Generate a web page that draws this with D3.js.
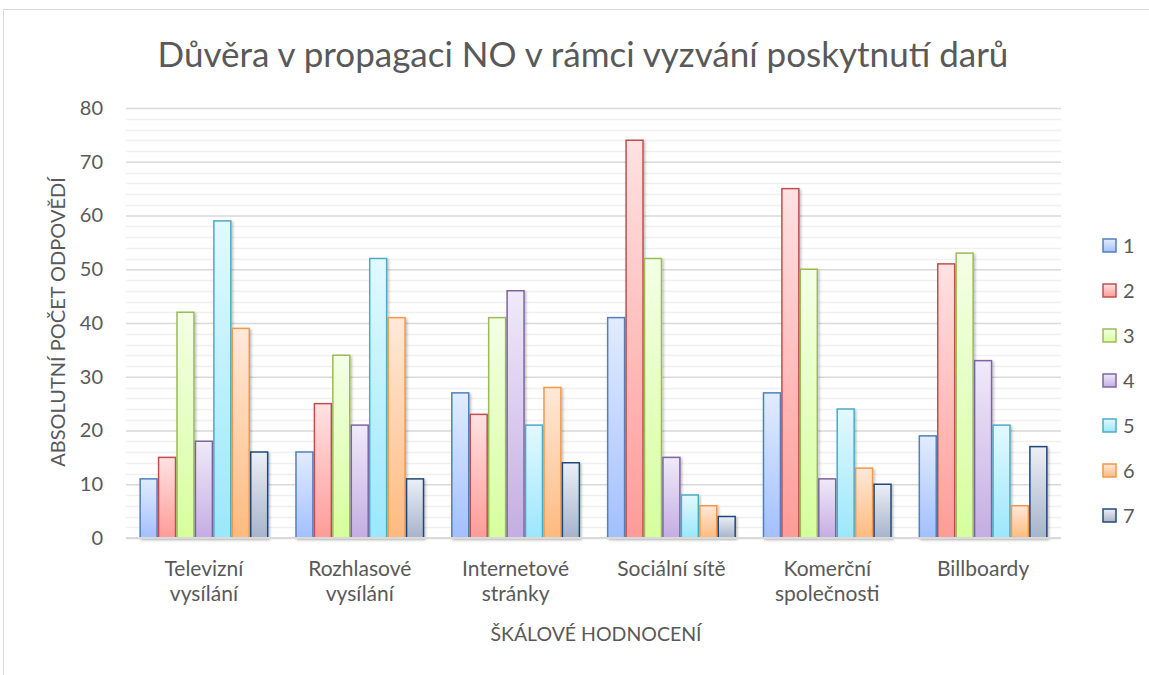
<!DOCTYPE html>
<html>
<head>
<meta charset="utf-8">
<script src="https://cdn.jsdelivr.net/npm/d3@7"></script>
<style>
  body { margin: 0; background: #fff; }
  svg { font-family: Lato, "Open Sans", sans-serif; }
</style>
</head>
<body>
<div id="chart"></div>
<script>
// data
var categories = [["Televizní", "vysílání"], ["Rozhlasové", "vysílání"], ["Internetové", "stránky"],
	["Sociální sítě"], ["Komerční", "společnosti"], ["Billboardy"]];
var seriesNames = ["1", "2", "3", "4", "5", "6", "7"];
var s1 = [11, 16, 27, 41, 27, 19];
var s2 = [15, 25, 23, 74, 65, 51];
var s3 = [42, 34, 41, 52, 50, 53];
var s4 = [18, 21, 46, 15, 11, 33];
var s5 = [59, 52, 21, 8, 24, 21];
var s6 = [39, 41, 28, 6, 13, 6];
var s7 = [16, 11, 14, 4, 10, 17];
var yTicks = [0, 10, 20, 30, 40, 50, 60, 70, 80];

var series = [s1, s2, s3, s4, s5, s6, s7];
var strokes = ["#4f81bd", "#c0504d", "#9bbb59", "#8064a2", "#4bacc6", "#f79646", "#1f497d"];
var topFill = ["#e2ecff", "#ffe2e2", "#f4ffe6", "#f0eafa", "#e2f9ff", "#ffe9da", "#eceff5"];
var botFill = ["#a2bfff", "#ff9b98", "#d6ff9c", "#c4ade2", "#9be7fb", "#ffba7e", "#a6b3cb"];

var width = 1149, height = 675;
var pad = {t: 108, r: 88, b: 137, l: 126};

var svg = d3.select("#chart").append("svg")
	.attr("width", width).attr("height", height);

// outer chart border
svg.append("rect").attr("x", 3.5).attr("y", 9.5).attr("width", 1200).attr("height", 800)
	.attr("fill", "none").attr("stroke", "#d9d9d9");

var defs = svg.append("defs");
series.forEach(function(s, i) {
	var g = defs.append("linearGradient").attr("id", "grad" + i)
		.attr("x1", 0).attr("y1", 0).attr("x2", 0).attr("y2", 1);
	g.append("stop").attr("offset", "0%").attr("stop-color", topFill[i]);
	g.append("stop").attr("offset", "100%").attr("stop-color", botFill[i]);
});
var f = defs.append("filter").attr("id", "shadow").attr("x", "-20%").attr("y", "-5%")
	.attr("width", "150%").attr("height", "115%");
f.append("feDropShadow").attr("dx", 1.5).attr("dy", 1.5).attr("stdDeviation", 1.2)
	.attr("flood-color", "#000").attr("flood-opacity", 0.25);

var chartW = width - pad.l - pad.r;
var chartH = height - pad.t - pad.b;

var x0 = d3.scaleBand().domain(d3.range(categories.length)).range([pad.l, pad.l + chartW])
	.paddingInner(0.172).paddingOuter(0.086);
var x1 = d3.scaleBand().domain(d3.range(series.length)).range([0, x0.bandwidth()]);
var y = d3.scaleLinear().domain([0, 80]).range([pad.t + chartH, pad.t]);

// minor gridlines
svg.append("g").selectAll("line").data(d3.range(2, 80, 2).filter(function(v) { return v % 10; }))
	.enter().append("line")
	.attr("x1", pad.l).attr("x2", pad.l + chartW)
	.attr("y1", function(d) { return Math.round(y(d)) + 0.5; })
	.attr("y2", function(d) { return Math.round(y(d)) + 0.5; })
	.attr("stroke", "#f0f0f0").attr("stroke-width", 1.5);

// major gridlines + y labels
var yAxis = d3.axisLeft(y).tickValues(yTicks).tickSize(-chartW).tickPadding(23);
var yg = svg.append("g").attr("transform", "translate(" + pad.l + ",0)").call(yAxis);
yg.select(".domain").remove();
yg.selectAll(".tick line").attr("stroke", "#d9d9d9").attr("stroke-width", 1.5);
yg.selectAll(".tick text").attr("fill", "#595959").style("font-size", "20px")
	.style("font-family", "Lato, sans-serif");

// bars
var groups = svg.append("g").selectAll("g").data(categories).enter().append("g")
	.attr("transform", function(d, i) { return "translate(" + x0(i) + ",0)"; });

groups.each(function(c, ci) {
	var g = d3.select(this);
	series.forEach(function(s, si) {
		g.append("rect")
			.attr("x", x1(si) + 0.75)
			.attr("y", y(s[ci]))
			.attr("width", x1.bandwidth() - 1.5)
			.attr("height", y(0) - y(s[ci]))
			.attr("fill", "url(#grad" + si + ")")
			.attr("stroke", strokes[si]).attr("stroke-width", 1.5)
			.attr("filter", "url(#shadow)");
	});
});

// x axis line
svg.append("line").attr("x1", pad.l).attr("x2", pad.l + chartW)
	.attr("y1", y(0)).attr("y2", y(0)).attr("stroke", "#d9d9d9").attr("stroke-width", 2);

// category labels
svg.append("g").selectAll("text").data(categories).enter().append("text")
	.attr("text-anchor", "middle").attr("fill", "#595959").style("font-size", "21px")
	.attr("transform", function(d, i) { return "translate(" + (x0(i) + x0.bandwidth() / 2) + ",576)"; })
	.each(function(d) {
		var t = d3.select(this);
		d.forEach(function(line, li) {
			t.append("tspan").attr("x", 0).attr("dy", li ? 25 : 0).text(line);
		});
	});

// axis titles
svg.append("text").attr("x", 596).attr("y", 641)
	.attr("text-anchor", "middle").attr("fill", "#595959").style("font-size", "19.5px")
	.text("ŠKÁLOVÉ HODNOCENÍ");
svg.append("text").attr("transform", "translate(65,322) rotate(-90)")
	.attr("text-anchor", "middle").attr("fill", "#595959").style("font-size", "20px")
	.text("ABSOLUTNÍ POČET ODPOVĚDÍ");

// title
svg.append("text").attr("x", 583).attr("y", 67).attr("text-anchor", "middle")
	.attr("fill", "#595959").style("font-size", "35px")
	.text("Důvěra v propagaci NO v rámci vyzvání poskytnutí darů");

// legend
var leg = svg.append("g").selectAll("g").data(seriesNames).enter().append("g")
	.attr("transform", function(d, i) { return "translate(1103," + (239 + i * 45) + ")"; });
leg.append("rect").attr("width", 13).attr("height", 13)
	.attr("fill", function(d, i) { return "url(#grad" + i + ")"; })
	.attr("stroke", function(d, i) { return strokes[i]; }).attr("stroke-width", 1.5);
leg.append("text").attr("x", 20).attr("y", 14).attr("fill", "#595959")
	.style("font-size", "20px").text(function(d) { return d; });
</script>
</body>
</html>
